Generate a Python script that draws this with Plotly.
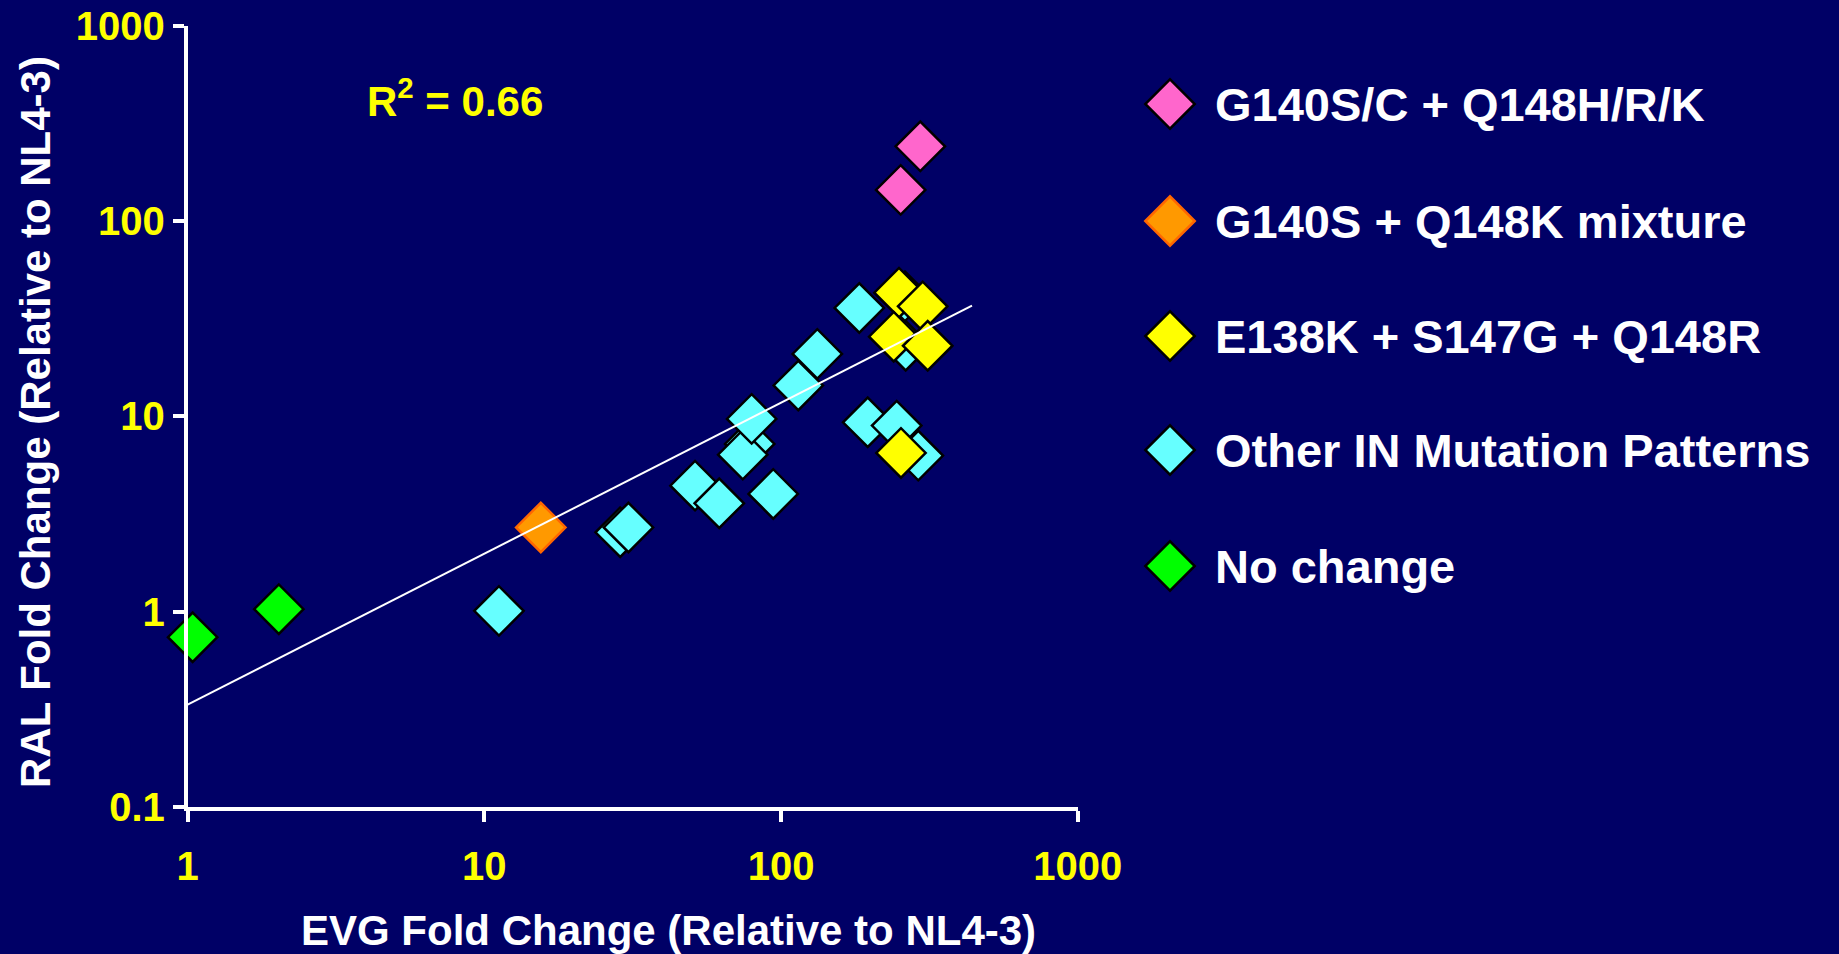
import plotly.graph_objects as go

W, H = 1839, 954

# ---- data: EVG vs RAL fold change (relative to NL4-3) ----
no_change_evg = [1.04, 2.03]
no_change_ral = [0.74, 1.03]

mixture_evg = [15.5]
mixture_ral = [2.70]

other_evg = [11.2, 28.7, 30.6, 51.3, 61.9, 94.1, 78.4, 74.3, 79.6, 114.3, 132.5,
             183.5, 261.6, 195.9, 245.3, 290.0, 263.0]
other_ral = [1.01, 2.55, 2.70, 4.42, 3.59, 4.01, 7.23, 6.37, 9.71, 14.4, 20.9,
             35.9, 41.2, 9.33, 8.97, 6.30, 23.0]

e138_evg = [249.7, 300.1, 239.7, 312.0, 253.6]
e138_ral = [43.0, 36.6, 25.6, 23.0, 6.50]

g140_evg = [294.6, 253.0]
g140_ral = [241.5, 144.5]

# least-squares fit line (log-log), end points
fit_evg = [1.0, 440.0]
fit_ral = [0.334, 36.9]
r_squared = "0.66"

# axis ticks
x_tickvals = [1, 10, 100, 1000]
x_ticktext = ["1", "10", "100", "1000"]
y_tickvals = [0.1, 1, 10, 100, 1000]
y_ticktext = ["0.1", "1", "10", "100", "1000"]

# categories (legend order) with colours
categories = ["G140S/C + Q148H/R/K", "G140S + Q148K mixture", "E138K + S147G + Q148R",
              "Other IN Mutation Patterns", "No change"]
cat_colors = ["#FF66CC", "#FF9900", "#FFFF00", "#66FFFF", "#00FF00"]
cat_outline = ["#000000", "#FF6600", "#000000", "#000000", "#000000"]
legend_rows_px = [104, 221, 336, 450, 566]   # legend row centres, px from top

BG = "#000066"
FONT = "Arial, Liberation Sans, sans-serif"
MS = 38

fig = go.Figure()

series = [
    (no_change_evg, no_change_ral, 4),
    (mixture_evg, mixture_ral, 1),
    (other_evg, other_ral, 3),
    (e138_evg, e138_ral, 2),
    (g140_evg, g140_ral, 0),
]
for xs, ys, ci in series:
    fig.add_trace(go.Scatter(
        x=xs, y=ys, mode="markers", name=categories[ci], showlegend=False,
        cliponaxis=False,
        marker=dict(symbol="diamond", size=MS, color=cat_colors[ci],
                    line=dict(color=cat_outline[ci], width=2.5)),
    ))

# regression line sits on top of the points
fig.add_trace(go.Scatter(x=fit_evg, y=fit_ral, mode="lines",
                         line=dict(color="white", width=2), showlegend=False,
                         hoverinfo="skip"))

# key drawn on its own hidden axes, in pixel units
x0_legend = 0.6
fig.add_trace(go.Scatter(
    x=[1170] * len(categories), y=legend_rows_px, mode="markers",
    xaxis="x2", yaxis="y2", showlegend=False, hoverinfo="skip", cliponaxis=False,
    marker=dict(symbol="diamond", size=MS, color=cat_colors,
                line=dict(color=cat_outline, width=2.5)),
))

annotations = []
for lab, yp in zip(categories, legend_rows_px):
    annotations.append(dict(
        x=1213, y=yp, xref="x2", yref="y2", text=lab, showarrow=False,
        xanchor="left", yanchor="middle",
        font=dict(family=FONT, size=47, color="white", weight="bold")))

annotations.append(dict(
    x=455 / W, y=1 - 98 / H, xref="paper", yref="paper",
    text=f"R<sup>2</sup> = {r_squared}", showarrow=False,
    xanchor="center", yanchor="middle",
    font=dict(family=FONT, size=42, color="#FFFF00", weight="bold")))

annotations.append(dict(
    x=668 / W, y=1 - 930 / H, xref="paper", yref="paper",
    text="EVG Fold Change (Relative to NL4-3)", showarrow=False,
    xanchor="center", yanchor="middle",
    font=dict(family=FONT, size=42, color="white", weight="bold")))

annotations.append(dict(
    x=35 / W, y=1 - 422 / H, xref="paper", yref="paper",
    text="RAL Fold Change (Relative to NL4-3)", showarrow=False, textangle=-90,
    xanchor="center", yanchor="middle",
    font=dict(family=FONT, size=42, color="white", weight="bold")))

x_dom = [187.6 / W, 1077.8 / W]
y_dom = [147 / H, 1 - 25.8 / H]
tickfont = dict(family=FONT, size=40, color="#FFFF00", weight="bold")

axis_common = dict(type="log", showgrid=False, zeroline=False, automargin=False,
                   showline=True, linecolor="white", linewidth=3.5,
                   ticks="outside", ticklen=11, tickwidth=3.5, tickcolor="white",
                   tickfont=tickfont)

fig.update_layout(
    template="none",
    width=W, height=H, autosize=False,
    paper_bgcolor=BG, plot_bgcolor=BG,
    margin=dict(l=0, r=0, t=0, b=0, pad=0),
    showlegend=False,
    xaxis=dict(axis_common, domain=x_dom, range=[0, 3], anchor="y",
               tickmode="array", tickvals=x_tickvals, ticktext=x_ticktext,
               ticklabelstandoff=10),
    yaxis=dict(axis_common, domain=y_dom, range=[-1, 3], anchor="x",
               tickmode="array", tickvals=y_tickvals, ticktext=y_ticktext,
               ticklabelstandoff=0),
    # inner halves of the crossing tick marks
    xaxis3=dict(type="log", range=[0, 3], overlaying="x", anchor="y", side="bottom",
                showgrid=False, zeroline=False, showline=False, automargin=False,
                ticks="inside", ticklen=11, tickwidth=3.5, tickcolor="white",
                tickmode="array", tickvals=x_tickvals, showticklabels=False),
    yaxis3=dict(type="log", range=[-1, 3], overlaying="y", anchor="x", side="left",
                showgrid=False, zeroline=False, showline=False, automargin=False,
                ticks="inside", ticklen=11, tickwidth=3.5, tickcolor="white",
                tickmode="array", tickvals=y_tickvals, showticklabels=False),
    xaxis2=dict(domain=[x0_legend, 1], range=[x0_legend * W, W], visible=False,
                anchor="y2", fixedrange=True, automargin=False),
    yaxis2=dict(domain=[0, 1], range=[H, 0], visible=False,
                anchor="x2", fixedrange=True, automargin=False),
    annotations=annotations,
)

fig.write_html("out.html")
